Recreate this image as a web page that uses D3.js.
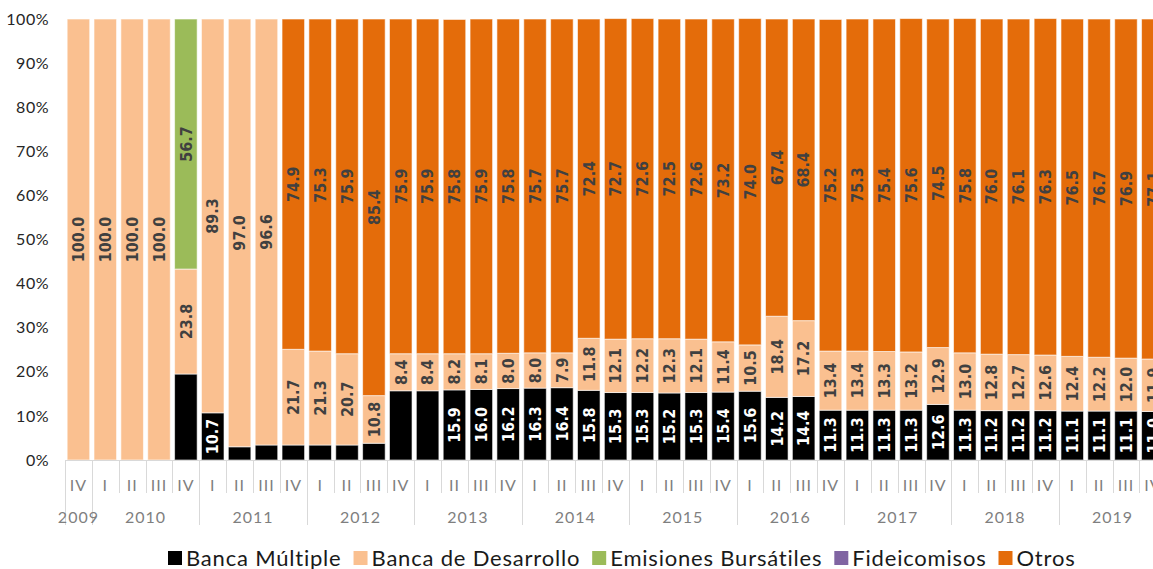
<!DOCTYPE html>
<html>
<head>
<meta charset="utf-8">
<script src="https://cdn.jsdelivr.net/npm/d3@7"></script>
<style>
  body { margin: 0; background: #fff; overflow: hidden; }
  svg { display: block; }
</style>
</head>
<body>
<svg id="chart" width="1153" height="569"></svg>
<script>
// years and the quarters shown for each one
var years = ["2009", "2010", "2011", "2012", "2013", "2014", "2015", "2016", "2017", "2018", "2019"];
var yearQuarters = [["IV"], ["I", "II", "III", "IV"], ["I", "II", "III", "IV"], ["I", "II", "III", "IV"],
  ["I", "II", "III", "IV"], ["I", "II", "III", "IV"], ["I", "II", "III", "IV"], ["I", "II", "III", "IV"],
  ["I", "II", "III", "IV"], ["I", "II", "III", "IV"], ["I", "II", "III", "IV"]];

var seriesNames = ["Banca Múltiple", "Banca de Desarrollo", "Emisiones Bursátiles", "Fideicomisos", "Otros"];
var seriesColors = ["#000000", "#fac090", "#9bbb59", "#8064a2", "#e46c0a"];

var bancaMultiple = [0, 0, 0, 0, 19.5, 10.7, 3.0, 3.4, 3.4, 3.4, 3.4, 3.8, 15.7, 15.7, 15.9, 16.0, 16.2, 16.3, 16.4, 15.8,
  15.3, 15.3, 15.2, 15.3, 15.4, 15.6, 14.2, 14.4, 11.3, 11.3, 11.3, 11.3, 12.6, 11.3, 11.2, 11.2, 11.2, 11.1, 11.1, 11.1, 11.0];
var bancaDesarrollo = [100.0, 100.0, 100.0, 100.0, 23.8, 89.3, 97.0, 96.6, 21.7, 21.3, 20.7, 10.8, 8.4, 8.4, 8.2, 8.1, 8.0, 8.0, 7.9, 11.8,
  12.1, 12.2, 12.3, 12.1, 11.4, 10.5, 18.4, 17.2, 13.4, 13.4, 13.3, 13.2, 12.9, 13.0, 12.8, 12.7, 12.6, 12.4, 12.2, 12.0, 11.9];
var emisiones = [0, 0, 0, 0, 56.7, 0, 0, 0, 0, 0, 0, 0, 0, 0, 0, 0, 0, 0, 0, 0,
  0, 0, 0, 0, 0, 0, 0, 0, 0, 0, 0, 0, 0, 0, 0, 0, 0, 0, 0, 0, 0];
var fideicomisos = [0, 0, 0, 0, 0, 0, 0, 0, 0, 0, 0, 0, 0, 0, 0, 0, 0, 0, 0, 0,
  0, 0, 0, 0, 0, 0, 0, 0, 0, 0, 0, 0, 0, 0, 0, 0, 0, 0, 0, 0, 0];
var otros = [0, 0, 0, 0, 0, 0, 0, 0, 74.9, 75.3, 75.9, 85.4, 75.9, 75.9, 75.8, 75.9, 75.8, 75.7, 75.7, 72.4,
  72.7, 72.6, 72.5, 72.6, 73.2, 74.0, 67.4, 68.4, 75.2, 75.3, 75.4, 75.6, 74.5, 75.8, 76.0, 76.1, 76.3, 76.5, 76.7, 76.9, 77.1];
// the source only labels some of the black segments
var bancaMultipleLabelled = [0, 0, 0, 0, 0, 1, 0, 0, 0, 0, 0, 0, 0, 0, 1, 1, 1, 1, 1, 1,
  1, 1, 1, 1, 1, 1, 1, 1, 1, 1, 1, 1, 1, 1, 1, 1, 1, 1, 1, 1, 1];

var yTicks = [0, 10, 20, 30, 40, 50, 60, 70, 80, 90, 100];

// build the table
var keys = ["bm", "bd", "eb", "fi", "ot"];
var rows = [];
years.forEach(function(yr, yi) {
  yearQuarters[yi].forEach(function(q) {
    var i = rows.length;
    rows.push({ i: i, year: yr, q: q, bm: bancaMultiple[i], bd: bancaDesarrollo[i], eb: emisiones[i], fi: fideicomisos[i], ot: otros[i] });
  });
});

var svg = d3.select("#chart");
var plotLeft = 65, plotTop = 19, plotBottom = 460;
var step = 26.86;
var axisFont = "Lato, 'Open Sans', sans-serif";

var x = d3.scaleBand()
  .domain(rows.map(function(d) { return d.i; }))
  .range([plotLeft, plotLeft + step * rows.length])
  .paddingInner(0.16)
  .paddingOuter(0.08);

var y = d3.scaleLinear().domain([0, 100]).range([plotBottom, plotTop]);

var layers = d3.stack().keys(keys)(rows);

var g = svg.append("g");

layers.forEach(function(layer, li) {
  g.selectAll(null)
    .data(layer.filter(function(d) { return d[1] - d[0] > 0; }))
    .enter().append("rect")
    .attr("x", function(d) { return x(d.data.i); })
    .attr("width", x.bandwidth())
    .attr("y", function(d) { return y(d[1]); })
    .attr("height", function(d) { return y(d[0]) - y(d[1]); })
    .attr("fill", seriesColors[li])
    .attr("stroke", "#ffffff")
    .attr("stroke-opacity", 0.6)
    .attr("stroke-width", 1);
});

// data labels
layers.forEach(function(layer, li) {
  var key = keys[li];
  var items = layer.filter(function(d) {
    var v = d.data[key];
    if (!(v > 0)) return false;
    if (key === "bm" && !bancaMultipleLabelled[d.data.i]) return false;
    return true;
  });
  g.selectAll(null)
    .data(items)
    .enter().append("text")
    .attr("transform", function(d) {
      var cx = x(d.data.i) + x.bandwidth() / 2;
      var cy = (y(d[0]) + y(d[1])) / 2;
      return "translate(" + cx + "," + cy + ") rotate(-90)";
    })
    .attr("text-anchor", "middle")
    .attr("dy", "0.36em")
    .attr("font-family", "'DejaVu Sans Condensed', 'DejaVu Sans', sans-serif")
    .attr("font-weight", "bold")
    .attr("font-size", 16)
    .attr("fill", key === "bm" ? "#ffffff" : "#404040")
    .text(function(d) { return d3.format(".1f")(d.data[key]); });
});

// y axis labels
var yAxis = d3.axisLeft(y).tickValues(yTicks).tickSize(0).tickPadding(0)
  .tickFormat(function(d) { return d + "%"; });
var ya = svg.append("g").attr("transform", "translate(49,0)").call(yAxis);
ya.select(".domain").remove();
ya.selectAll("text")
  .attr("font-family", axisFont)
  .attr("font-size", 16)
  .attr("letter-spacing", 0.5)
  .attr("fill", "#262626");

// category axis: quarter labels and separators
var xEnd = plotLeft + step * rows.length;
var axisG = svg.append("g");
var gridColor = "#d9d9d9";
axisG.append("line")
  .attr("x1", plotLeft).attr("x2", xEnd)
  .attr("y1", plotBottom + 0.5).attr("y2", plotBottom + 0.5)
  .attr("stroke", gridColor);

var xAxis = d3.axisBottom(x).tickSize(0).tickPadding(0)
  .tickFormat(function(i) { return rows[i].q; });
var xa = axisG.append("g").attr("transform", "translate(0," + (plotBottom + 25) + ")").call(xAxis);
xa.select(".domain").remove();
xa.selectAll("text")
  .attr("dy", "0.35em")
  .attr("font-family", axisFont)
  .attr("font-size", 16)
  .attr("letter-spacing", 1)
  .attr("fill", "#7f7f7f");

// separators between quarters (short) and between years (long)
var firstOfYear = {};
var acc = 0;
years.forEach(function(yr, yi) { firstOfYear[acc] = yr; acc += yearQuarters[yi].length; });
firstOfYear[acc] = "end";

d3.range(rows.length + 1).forEach(function(i) {
  var bx = Math.round(plotLeft + step * i) + 0.5;
  var isYear = firstOfYear[i] !== undefined;
  axisG.append("line")
    .attr("x1", bx).attr("x2", bx)
    .attr("y1", plotBottom).attr("y2", isYear ? 525 : 493)
    .attr("stroke", gridColor);
});

// year labels
acc = 0;
years.forEach(function(yr, yi) {
  var n = yearQuarters[yi].length;
  var cx = plotLeft + step * (acc + n / 2);
  axisG.append("text")
    .attr("x", cx).attr("y", 517)
    .attr("dy", "0.35em")
    .attr("text-anchor", "middle")
    .attr("font-family", axisFont)
    .attr("font-size", 16)
    .attr("letter-spacing", 1)
    .attr("fill", "#7f7f7f")
    .text(yr);
  acc += n;
});

// legend
var legend = svg.append("g");
var lx = 168;
seriesNames.forEach(function(name, i) {
  legend.append("rect")
    .attr("x", lx).attr("y", 551)
    .attr("width", 14).attr("height", 14)
    .attr("fill", seriesColors[i]);
  var t = legend.append("text")
    .attr("x", lx + 18).attr("y", 566)
    .attr("font-family", axisFont)
    .attr("font-size", 22)
    .attr("letter-spacing", 0.8)
    .attr("fill", "#1a1a1a")
    .text(name);
  lx += 18 + t.node().getComputedTextLength() + 12;
});
</script>
</body>
</html>
